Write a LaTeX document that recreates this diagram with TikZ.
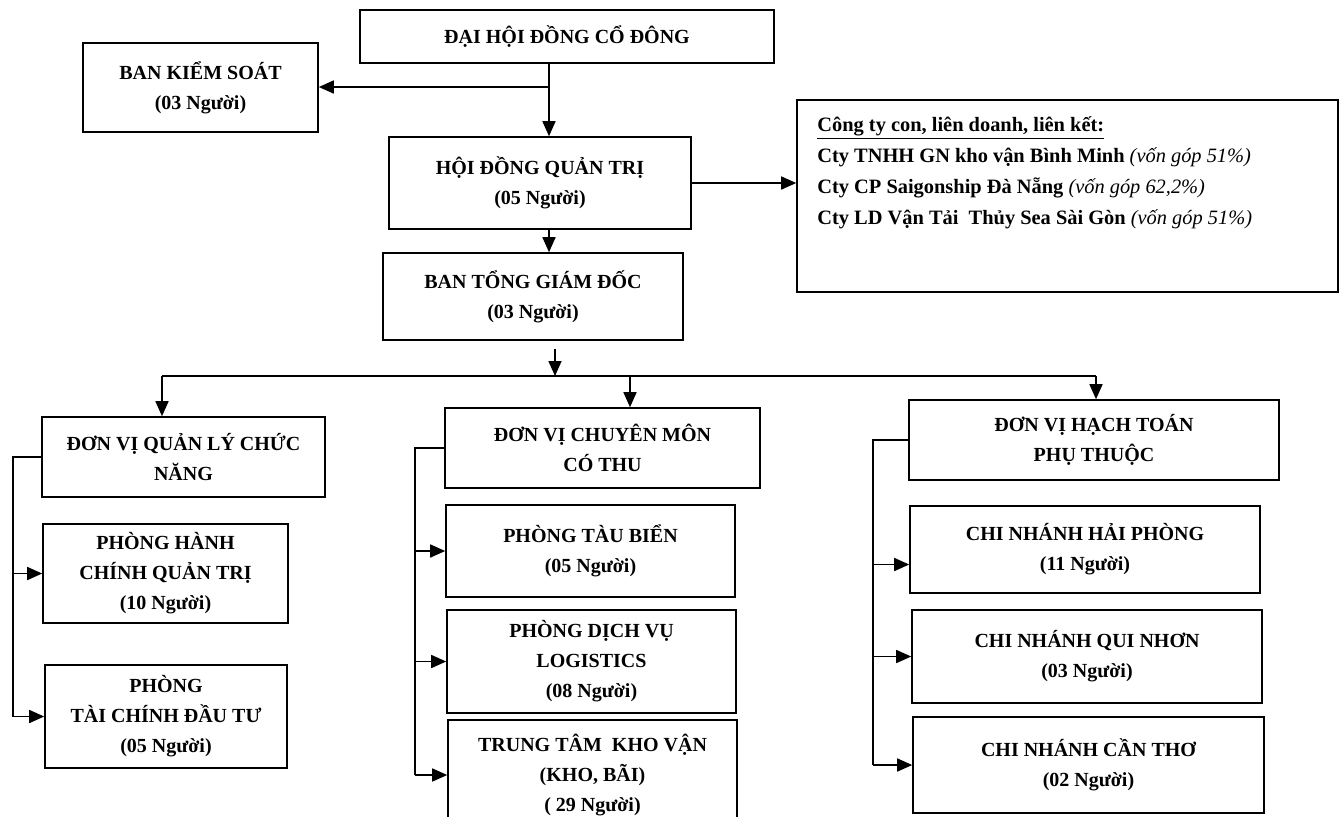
\documentclass[tikz,border=0pt]{standalone}
\usepackage{fontspec}
\setmainfont{Liberation Serif}
\usetikzlibrary{arrows.meta,calc}
\tikzset{
  box/.style 2 args={draw,line width=0.8pt,align=center,inner sep=0pt,
    font=\bfseries\fontsize{10}{15}\selectfont,
    minimum width=#1*0.5pt,minimum height=#2*0.5pt},
  arr/.style={line width=0.8pt,-{Triangle[length=7.5pt,width=6.5pt]}},
  ln/.style={line width=0.8pt}}

\begin{document}
\begin{tikzpicture}[x=0.5pt,y=-0.5pt]
\useasboundingbox (0,0) rectangle (1342,816);
\node[box={414}{53}] (dhcd) at (567,36.5) {ĐẠI HỘI ĐỒNG CỔ ĐÔNG};
\node[box={235}{89}] (bks) at (200.5,87.5) {BAN KIỂM SOÁT\\(03 Người)};
\node[box={302}{92}] (hdqt) at (540,183) {HỘI ĐỒNG QUẢN TRỊ\\(05 Người)};
\node[box={541}{192}] (sub) at (1067.5,196) {};
\node[anchor=north west,align=left,inner sep=0pt,font=\bfseries\fontsize{10.2}{15.5}\selectfont] (subtxt) at (817,116)
  {\underline{Công ty con, liên doanh, liên kết:}\\
   Cty TNHH GN kho vận Bình Minh \textmd{\textit{(vốn góp 51\%)}}\\
   Cty CP Saigonship Đà Nẵng \textmd{\textit{(vốn góp 62,2\%)}}\\
   Cty LD Vận Tải\ \ Thủy Sea Sài Gòn \textmd{\textit{(vốn góp 51\%)}}};
\node[box={300}{87}] (tgd) at (533,296.5) {BAN TỔNG GIÁM ĐỐC\\(03 Người)};
\node[box={283}{80}] (qlcn) at (183.5,457) {ĐƠN VỊ QUẢN LÝ CHỨC\\NĂNG};
\node[box={245}{99}] (hcqt) at (165.5,573.5) {PHÒNG HÀNH\\CHÍNH QUẢN TRỊ\\(10 Người)};
\node[box={242}{103}] (tcdt) at (166,716.5) {PHÒNG\\TÀI CHÍNH ĐẦU TƯ\\(05 Người)};
\node[box={315}{80}] (cmct) at (602.5,448) {ĐƠN VỊ CHUYÊN MÔN\\CÓ THU};
\node[box={289}{92}] (ptb) at (590.5,551) {PHÒNG TÀU BIỂN\\(05 Người)};
\node[box={289}{103}] (dvl) at (591.5,661.5) {PHÒNG DỊCH VỤ\\LOGISTICS\\(08 Người)};
\node[box={289}{110}] (tkv) at (592.5,775) {TRUNG TÂM\ \ KHO VẬN\\(KHO, BÃI)\\( 29 Người)};
\node[box={370}{80}] (htpt) at (1094,440) {ĐƠN VỊ HẠCH TOÁN\\PHỤ THUỘC};
\node[box={350}{87}] (chp) at (1085,549.5) {CHI NHÁNH HẢI PHÒNG\\(11 Người)};
\node[box={350}{93}] (cqn) at (1087,656.5) {CHI NHÁNH QUI NHƠN\\(03 Người)};
\node[box={351}{96}] (cct) at (1088.5,765) {CHI NHÁNH CẦN THƠ\\(02 Người)};
\coordinate (j1) at (549,87);
\draw[arr] (dhcd.south -| j1) -- (hdqt.north -| j1);
\draw[arr] (j1) -- (bks.east |- j1);
\draw[arr] (hdqt.south -| j1) -- (tgd.north -| j1);
\draw[arr] (hdqt.east) -- (hdqt.east -| sub.west);
\coordinate (bus) at (555,376);
\draw[arr,shorten <=4pt] (tgd.south -| bus) -- (bus);
\coordinate (bl) at (162,376);
\coordinate (bm) at (630,376);
\coordinate (br) at (1096,376);
\draw[ln] (bl) -- (br);
\foreach \c/\n in {bl/qlcn,bm/cmct,br/htpt}
  \draw[arr] (\c) -- (\c |- \n.north);
\coordinate (vl) at (13,0);
\coordinate (vm) at (415,0);
\coordinate (vr) at (873,0);
\coordinate (hp) at ([yshift=-7.5pt]chp.west);
\draw[ln] (qlcn.west) -- (qlcn.west -| vl) -- (vl |- tcdt.west);
\draw[ln] (cmct.west) -- (cmct.west -| vm) -- (vm |- tkv.west);
\draw[ln] (htpt.west) -- (htpt.west -| vr) -- (vr |- cct.west);
\foreach \v/\n in {vl/hcqt,vl/tcdt,vm/ptb,vm/dvl,vm/tkv,vr/cqn,vr/cct}
  \draw[arr] (\v |- \n.west) -- (\n.west);
\draw[arr] (vr |- hp) -- (hp);
\end{tikzpicture}
\end{document}
